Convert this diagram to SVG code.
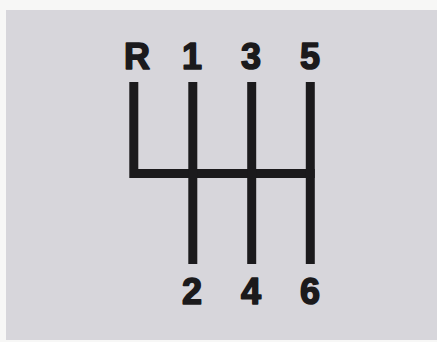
<svg xmlns="http://www.w3.org/2000/svg" width="437" height="342" viewBox="0 0 437 342">
<style>
.lbl{font-family:"Liberation Sans",Arial,sans-serif;font-weight:bold;font-size:36px;fill:#1b1a1c;stroke:#1b1a1c;stroke-width:1.6;stroke-linejoin:round;text-anchor:middle}
.gate{stroke:#1b1a1c;stroke-width:9;fill:none;stroke-linecap:butt;stroke-linejoin:miter}
</style>
<rect x="0" y="0" width="437" height="342" fill="#f7f7f6"/>
<rect x="6" y="10" width="431" height="330" fill="#d7d6db"/>
<g id="connectors">
<path class="gate" d="M133.8 82 V173.5 H314.7"/>
<path class="gate" d="M192.8 82 V264"/>
<path class="gate" d="M251.7 82 V264"/>
<path class="gate" d="M310.3 82 V264"/>
</g>
<g id="gear-R"><text class="lbl" x="137" y="68.5">R</text></g>
<g id="gear-1"><text class="lbl" x="192" y="68.5">1</text></g>
<g id="gear-3"><text class="lbl" x="251" y="68.5">3</text></g>
<g id="gear-5"><text class="lbl" x="310" y="68.5">5</text></g>
<g id="gear-2"><text class="lbl" x="192" y="304">2</text></g>
<g id="gear-4"><text class="lbl" x="251" y="304">4</text></g>
<g id="gear-6"><text class="lbl" x="310" y="304">6</text></g>
</svg>
